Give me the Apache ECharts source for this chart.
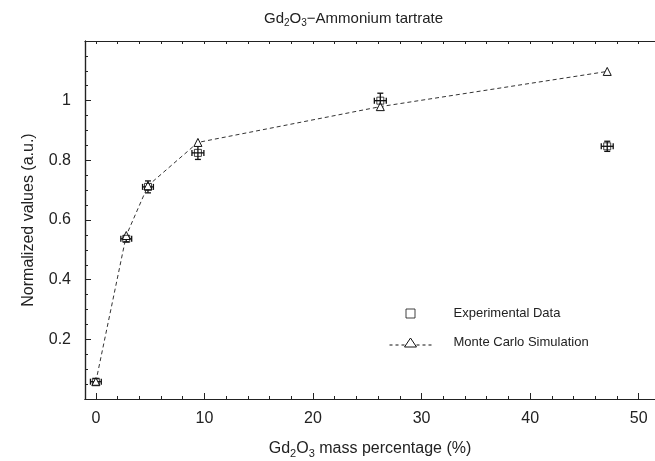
<!DOCTYPE html>
<html><head><meta charset="utf-8">
<script src="https://cdn.jsdelivr.net/npm/echarts@6/dist/echarts.min.js"></script>
<style>html,body{margin:0;padding:0;background:#fff}#c{width:655px;height:461px}</style>
</head><body><div id="c"></div>
<script>
// ---- data ----
const expX    = [0, 2.8, 4.8, 9.4, 26.2, 47.1];
const expY    = [0.058, 0.537, 0.711, 0.825, 1.0, 0.847];
const expXErr = [0.5, 0.5, 0.5, 0.55, 0.55, 0.55];
const expYErr = [0.01, 0.01, 0.02, 0.022, 0.025, 0.017];
const mcX     = [0, 2.8, 4.8, 9.4, 26.2, 47.1];
const mcY     = [0.058, 0.548, 0.715, 0.86, 0.98, 1.098];
const xMajorTicks = [0, 10, 20, 30, 40, 50];
const xMinorTicks = [0,2,4,6,8,10,12,14,16,18,20,22,24,26,28,30,32,34,36,38,40,42,44,46,48,50];
const yMajorTicks = [0.2, 0.4, 0.6, 0.8, 1];
const yMinorTicks = [0.05,0.1,0.15,0.2,0.25,0.3,0.35,0.4,0.45,0.5,0.55,0.6,0.65,0.7,0.75,0.8,0.85,0.9,0.95,1,1.05,1.1,1.15];
const titleParts = ['Gd', '2', 'O', '3', '\u2212Ammonium tartrate'];
const xNameParts = ['Gd', '2', 'O', '3', ' mass percentage (%)'];
const yName = 'Normalized values (a.u.)';
const seriesNames = ['Experimental Data', 'Monte Carlo Simulation'];

const TXT = '#222';
const FONT = 'Liberation Sans, Arial, sans-serif';
const richSub = (size) => ({
  n: {fontSize: size, fontFamily: FONT, color: TXT, fontWeight: 'normal'},
  s: {fontSize: Math.round(size*0.68), fontFamily: FONT, color: TXT, fontWeight: 'normal', padding: [Math.round(size*0.55),0,0,0]}
});
const richStr = (p) => `{n|${p[0]}}{s|${p[1]}}{n|${p[2]}}{s|${p[3]}}{n|${p[4]}}`;

const XMIN = -1, XMAX = 51.5, YMIN = 0, YMAX = 1.2;
const axisLine = {show: true, onZero: false, lineStyle: {color: '#222', width: 1.2}};
function xAx(pos, ticks, len, labels, extra) {
  return Object.assign({
    type: 'value', position: pos, min: XMIN, max: XMAX, interval: 0.5,
    axisLine: axisLine, splitLine: {show: false},
    axisTick: {show: true, inside: true, length: len, customValues: ticks, lineStyle: {color: '#222', width: 1}},
    axisLabel: labels ? {show: true, customValues: xMajorTicks, fontSize: 16, fontFamily: FONT, color: TXT, margin: 12} : {show: false}
  }, extra || {});
}
function yAx(ticks, len, labels, extra) {
  return Object.assign({
    type: 'value', position: 'left', min: YMIN, max: YMAX, interval: 0.05,
    axisLine: axisLine, splitLine: {show: false},
    axisTick: {show: true, inside: true, length: len, customValues: ticks, lineStyle: {color: '#222', width: 1}},
    axisLabel: labels ? {show: true, customValues: yMajorTicks, fontSize: 16, fontFamily: FONT, color: TXT, margin: 14,
      formatter: v => String(+v.toFixed(2))} : {show: false}
  }, extra || {});
}

const chart = echarts.init(document.getElementById('c'), null, {renderer: 'canvas'});
const errData = expX.map((x, i) => [x, expY[i], expXErr[i], expYErr[i]]);
chart.setOption({
  animation: false,
  backgroundColor: '#fff',
  title: {
    text: richStr(titleParts), left: 259, top: 5,
    textStyle: {fontWeight: 'normal', rich: richSub(15)}
  },
  grid: {left: 85, right: 0, top: 41, bottom: 62, outerBoundsMode: 'none', containLabel: false},
  xAxis: [
    xAx('bottom', xMajorTicks, 6, true, {
      name: richStr(xNameParts), nameLocation: 'middle', nameGap: 40,
      nameTextStyle: {rich: richSub(16)}
    }),
    xAx('bottom', xMinorTicks, 3, false),
    xAx('top', xMinorTicks, 3, false)
  ],
  yAxis: [
    yAx(yMajorTicks, 6, true, {
      name: yName, nameLocation: 'middle', nameGap: 48,
      nameTextStyle: {fontSize: 16, fontFamily: FONT, color: TXT}
    }),
    yAx(yMinorTicks, 3, false)
  ],
  legend: {
    orient: 'vertical', left: 384, top: 302, itemGap: 16,
    itemWidth: 42, itemHeight: 10, symbolKeepAspect: true,
    textStyle: {fontSize: 13, fontFamily: FONT, color: TXT, padding: [0,0,0,17]},
    data: [
      {name: seriesNames[0], icon: 'path://M0,5L0,5M42,5L42,5M16.5,0.5L25.5,0.5L25.5,9.5L16.5,9.5Z',
       itemStyle: {color: '#fff', borderColor: '#111', borderWidth: 1}},
      {name: seriesNames[1], icon: 'path://M0,7L3,7M6,7L9,7M12,7L15,7M21,0L27,9L15,9ZM27,7L30,7M33,7L36,7M39,7L42,7',
       itemStyle: {color: '#fff', borderColor: '#111', borderWidth: 1}}
    ]
  },
  series: [
    {
      type: 'custom', name: 'err', xAxisIndex: 0, yAxisIndex: 0, z: 2, silent: true,
      data: errData,
      renderItem: function (params, api) {
        const x = api.value(0), y = api.value(1), ex = api.value(2), ey = api.value(3);
        const c = api.coord([x, y]);
        const l = api.coord([x - ex, y]), r = api.coord([x + ex, y]);
        const t = api.coord([x, y + ey]), b = api.coord([x, y - ey]);
        const cap = 3;
        const st = {stroke: '#111', lineWidth: 1.3};
        return {type: 'group', children: [
          {type: 'line', shape: {x1: l[0], y1: c[1], x2: r[0], y2: c[1]}, style: st},
          {type: 'line', shape: {x1: l[0], y1: c[1]-cap, x2: l[0], y2: c[1]+cap}, style: st},
          {type: 'line', shape: {x1: r[0], y1: c[1]-cap, x2: r[0], y2: c[1]+cap}, style: st},
          {type: 'line', shape: {x1: c[0], y1: t[1], x2: c[0], y2: b[1]}, style: st},
          {type: 'line', shape: {x1: c[0]-cap, y1: t[1], x2: c[0]+cap, y2: t[1]}, style: st},
          {type: 'line', shape: {x1: c[0]-cap, y1: b[1], x2: c[0]+cap, y2: b[1]}, style: st}
        ]};
      }
    },
    {
      type: 'line', name: seriesNames[1], z: 3,
      data: mcX.map((x, i) => [x, mcY[i]]),
      symbol: 'triangle', symbolSize: 8, showSymbol: true,
      itemStyle: {color: '#fff', borderColor: '#111', borderWidth: 1},
      lineStyle: {color: '#333', width: 1, type: [4, 3]}
    },
    {
      type: 'scatter', name: seriesNames[0], z: 4,
      data: expX.map((x, i) => [x, expY[i]]),
      symbol: 'rect', symbolSize: 7,
      itemStyle: {color: 'rgba(255,255,255,0)', borderColor: '#111', borderWidth: 1}
    }
  ]
});
</script>
</body></html>
